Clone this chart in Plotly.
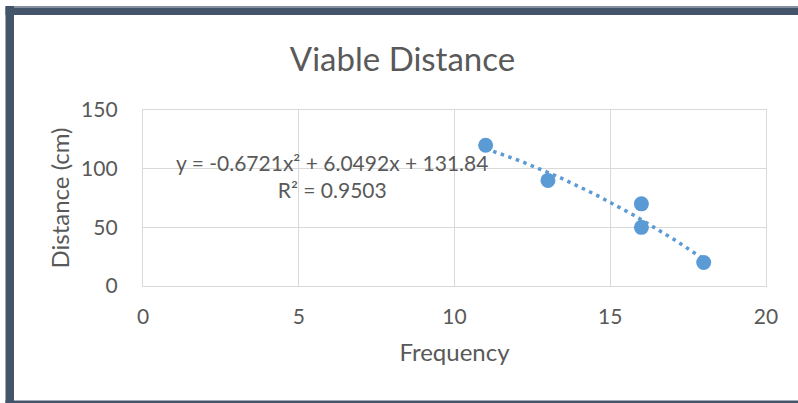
import plotly.graph_objects as go

# ---- data ----
frequency = [11, 13, 16, 16, 18]
distance = [120, 90, 70, 50, 20]
trend_coef = [-0.6721, 6.0492, 131.84]  # quadratic trendline a, b, c
x_ticks = [0, 5, 10, 15, 20]
y_ticks = [0, 50, 100, 150]
title_text = "Viable Distance"
x_title = "Frequency"
y_title = "Distance (cm)"
eq_text = "y = -0.6721x² + 6.0492x + 131.84<br>R² = 0.9503"

W, H = 798, 403
L, R, T, B = 143, 766, 110, 286  # plot area in pixels

def px(xpix):
    return (xpix - L) / (R - L)

def py(ypix):
    return (B - ypix) / (B - T)

FONT = "Lato"
TXT = "#595959"
GRID = "#D9D9D9"
BLUE = "#5B9BD5"
FRAME = "#44546A"

# trendline sampled between min and max x
n = 60
xmin, xmax = min(frequency), max(frequency)
tx = [xmin + (xmax - xmin) * i / (n - 1) for i in range(n)]
ty = [trend_coef[0] * v * v + trend_coef[1] * v + trend_coef[2] for v in tx]

fig = go.Figure()
fig.add_trace(go.Scatter(x=tx, y=ty, mode="lines",
                         line=dict(color=BLUE, width=3.5, dash="3.5px,4.5px"),
                         hoverinfo="skip", showlegend=False))
fig.add_trace(go.Scatter(x=frequency, y=distance, mode="markers",
                         marker=dict(color=BLUE, size=15, line=dict(width=0)),
                         showlegend=False))

fig.update_layout(
    width=W, height=H,
    margin=dict(l=L, r=W - R, t=T, b=H - B, pad=0),
    paper_bgcolor="white", plot_bgcolor="white",
    font=dict(family=FONT, color=TXT, size=21),
    title=dict(text=title_text, x=402.5 / W, xanchor="center", xref="container",
               y=1 - 59 / H, yanchor="middle", yref="container",
               font=dict(size=33, color=TXT, family=FONT)),
    showlegend=False,
)
fig.update_xaxes(range=[0, 20], tickvals=x_ticks, ticktext=[str(v) for v in x_ticks],
                 showgrid=True, gridcolor=GRID, gridwidth=1.3,
                 showline=True, linecolor=GRID, linewidth=1.3, mirror=True,
                 zeroline=False, ticks="", ticklabelstandoff=12,
                 tickfont=dict(size=21, color=TXT),
                 title=dict(text=x_title, font=dict(size=24, color=TXT), standoff=16))
fig.update_yaxes(range=[0, 150], tickvals=y_ticks, ticktext=[str(v) for v in y_ticks],
                 showgrid=True, gridcolor=GRID, gridwidth=1.3,
                 showline=True, linecolor=GRID, linewidth=1.3, mirror=True,
                 zeroline=False, ticks="", ticklabelstandoff=20,
                 tickfont=dict(size=21, color=TXT),
                 title=dict(text=y_title, font=dict(size=24, color=TXT), standoff=4))

fig.add_annotation(text=eq_text, xref="paper", yref="paper",
                   x=px(332), y=py(176), xanchor="center", yanchor="middle",
                   showarrow=False, align="center",
                   font=dict(size=21, color=TXT, family=FONT))

# frame
def band(x0, x1, y0, y1, color=FRAME):
    return dict(type="rect", xref="paper", yref="paper",
                x0=px(x0), x1=px(x1), y0=py(y0), y1=py(y1),
                fillcolor=color, line=dict(width=0), layer="above")

shapes = [
    band(5.5, W + 2, 6, 7.5, "#8592A3"),
    band(5.5, W + 2, 7.5, 15),
    band(5.5, 14, 6, H + 2),
    band(5.5, W + 2, 400.5, H + 2),
]
fig.update_layout(shapes=shapes)

fig.write_html("out.html",
               config={"displayModeBar": False},
               post_script="document.body.style.margin='0px';document.body.style.padding='0px';")
